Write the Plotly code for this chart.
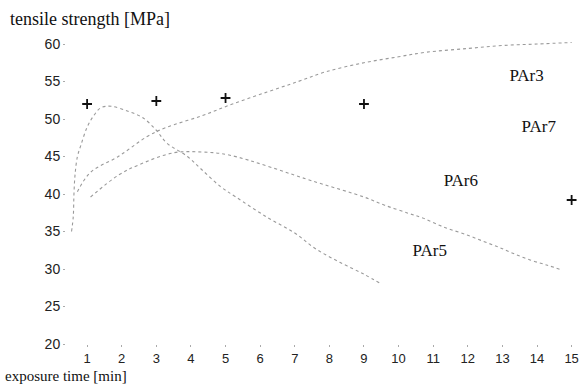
import plotly.graph_objects as go

# PAr3: rising curve
par3_x = [0.72, 1.1, 1.9, 2.75, 3.3, 4.3, 5.2, 6.2, 7.1, 7.9, 9.0, 10.0, 10.8, 12.0, 13.0, 14.0, 15.0]
par3_y = [40.3, 42.9, 45.0, 47.7, 48.9, 50.4, 52.0, 53.6, 55.0, 56.3, 57.5, 58.3, 58.9, 59.4, 59.8, 60.0, 60.2]

# PAr5: steep rise, peak, then decline to ~28
par5_x = [0.55, 0.6, 0.62, 0.65, 0.72, 0.82, 1.0, 1.2, 1.4, 1.7, 2.2, 2.6, 3.0, 3.3, 3.9, 4.3, 4.85, 5.3, 6.2, 7.0, 7.6, 8.3, 9.0, 9.5]
par5_y = [35.0, 37.0, 40.0, 42.5, 45.0, 46.5, 48.9, 50.5, 51.5, 51.7, 51.0, 50.2, 48.5, 46.8, 45.0, 43.3, 41.0, 39.6, 36.9, 34.8, 32.7, 30.9, 29.3, 28.0]

# PAr6: rise to ~45.5 then slow decline to ~30
par6_x = [1.1, 1.9, 2.5, 3.5, 4.3, 5.1, 7.6, 9.0, 9.6, 10.3, 10.7, 11.3, 12.0, 12.5, 12.9, 13.3, 13.8, 14.3, 14.7]
par6_y = [39.6, 42.5, 43.9, 45.5, 45.6, 45.2, 41.6, 39.6, 38.5, 37.4, 36.8, 35.6, 34.5, 33.6, 32.9, 32.1, 31.2, 30.5, 29.9]

# PAr7: measured points (+)
par7_x = [1, 3, 5, 9, 15]
par7_y = [52.0, 52.4, 52.8, 52.0, 39.2]

# curve labels
label_text = ["PAr3", "PAr7", "PAr6", "PAr5"]
label_x = [13.7, 14.05, 11.8, 10.9]
label_y = [55.6, 48.8, 41.6, 32.3]

x_ticks = list(range(1, 16))
y_ticks = list(range(20, 61, 5))

fig = go.Figure()
curve_color = "#9a9a9a"
for xs, ys in [(par3_x, par3_y), (par5_x, par5_y), (par6_x, par6_y)]:
    fig.add_trace(go.Scatter(x=xs, y=ys, mode="lines", line=dict(color=curve_color, width=1.1, dash="dot", shape="spline"),
                             showlegend=False, hoverinfo="skip"))

fig.add_trace(go.Scatter(x=par7_x, y=par7_y, mode="markers",
                         marker=dict(symbol="cross-thin", size=7, line=dict(color="#111", width=1.8)),
                         showlegend=False))

fig.add_trace(go.Scatter(x=label_x, y=label_y, mode="text", text=label_text,
                         textfont=dict(family="Liberation Serif", size=17, color="#111"),
                         showlegend=False))

L, R, T, B = 66, 6, 40, 41
W, H = 588, 385
pw, ph = W - L - R, H - T - B

fig.update_layout(
    width=W, height=H,
    margin=dict(l=L, r=R, t=T, b=B),
    paper_bgcolor="white", plot_bgcolor="white",
    xaxis=dict(range=[0.39, 15.30], tickvals=x_ticks, showgrid=False, zeroline=False, showline=False,
               ticks="outside", ticklen=2, tickcolor="#aaa",
               tickfont=dict(family="Liberation Sans", size=13, color="#222")),
    yaxis=dict(range=[20.0, 60.533], tickvals=y_ticks, showgrid=False, zeroline=False, showline=False,
               ticks="outside", ticklen=2, tickcolor="#aaa",
               tickfont=dict(family="Liberation Sans", size=14, color="#222")),
    annotations=[
        dict(text="tensile strength [MPa]", xref="paper", yref="paper",
             x=(8 - L) / pw, y=(H - B - 19) / ph, xanchor="left", yanchor="middle", showarrow=False,
             font=dict(family="Liberation Serif", size=18, color="#111")),
        dict(text="exposure time [min]", xref="paper", yref="paper",
             x=(3 - L) / pw, y=(H - B - 376) / ph, xanchor="left", yanchor="middle", showarrow=False,
             font=dict(family="Liberation Serif", size=15, color="#111")),
    ],
)

fig.write_html("out.html")
